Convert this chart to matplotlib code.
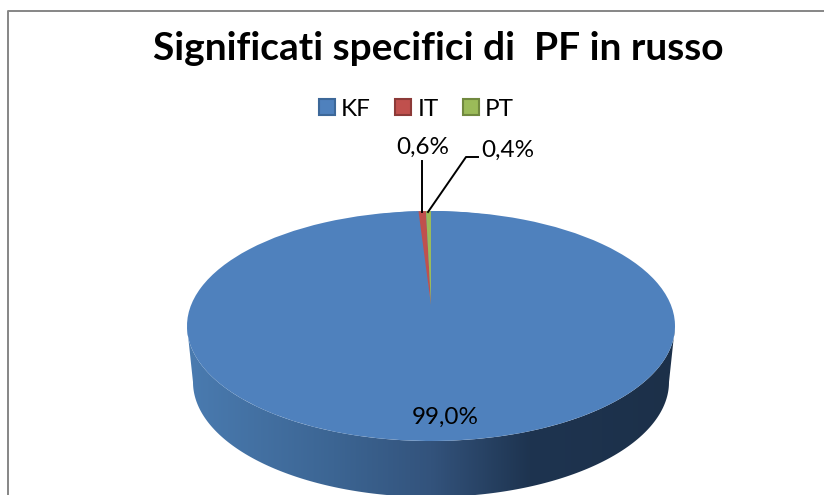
import matplotlib
matplotlib.use('Agg')
import matplotlib.pyplot as plt
import numpy as np
from matplotlib.colors import LinearSegmentedColormap
from matplotlib.patches import Polygon, Rectangle

plt.rcParams['font.family'] = ['Lato', 'DejaVu Sans']

labels = ['KF', 'IT', 'PT']
values = [99.0, 0.6, 0.4]
value_labels = ['99,0%', '0,6%', '0,4%']
colors = ['#4f81bd', '#c0504d', '#9bbb59']
edges = ['#3d6899', '#8c3a38', '#71893f']
title = 'Significati specifici di  PF in russo'

W, H = 824, 495
# pie ellipse in image pixels
cx, cy, rx, ry = 431, 326, 244, 115
depth = 56 / ry
# bottom rim is a bit narrower, the 3d view has perspective
rim = 238 / rx
# slices meet above the ellipse centre for the same reason
tip = (cy - 305) / ry

fig = plt.figure(figsize=(W / 100, H / 100), dpi=100)
ax = fig.add_axes([0, 0, 1, 1])

# top face
ax.pie(
    values,
    colors=[colors[0]] * len(values),
    startangle=90,
    counterclock=False,
    wedgeprops={'linewidth': 0}
)
ax.pie(
    values,
    colors=colors,
    startangle=90,
    counterclock=False,
    center=(0, tip),
    radius=1 - tip,
    wedgeprops={'linewidth': 0}
)
ax.set_aspect('auto')
ax.set_axis_off()

# side wall of the pie
t = np.linspace(np.pi, 2 * np.pi, 200)
wall = np.vstack([
    np.column_stack([np.cos(t), np.sin(t)]),
    np.column_stack([rim * np.cos(t[::-1]), np.sin(t[::-1]) - depth])
])
patch = Polygon(wall, closed=True, facecolor='none', edgecolor='none')
ax.add_patch(patch)
side_cmap = LinearSegmentedColormap.from_list(
    'side',
    [(0, '#4a7bb0'), (0.3, '#3c6593'), (0.5, '#33537c'),
     (0.7, '#1e3450'), (1, '#1c3049')]
)
grad = ax.imshow(
    np.linspace(0, 1, 256)[None, :],
    cmap=side_cmap,
    extent=(-1, 1, -1 - depth, 0),
    aspect='auto',
    zorder=0.5
)
grad.set_clip_path(patch)

# one data unit is one pie radius, squashed to an ellipse
ax.set_xlim(-cx / rx, (W - cx) / rx)
ax.set_ylim((cy - H) / ry, cy / ry)


def px(x, y):
    return (x - cx) / rx, (cy - y) / ry


# chart frame, open on the right and bottom as in the crop
ax.add_line(plt.Line2D(*zip(px(7.5, H), px(7.5, 10.5), px(W, 10.5)),
                       color='#868686', lw=1.4))

fig.text(438.5 / W, 1 - 48 / H, title, fontsize=28, fontweight='bold',
         ha='center', va='center', color='black')

ax.text(*px(445, 417), value_labels[0], fontsize=17.5, ha='center',
        va='center', color='black')
ax.text(*px(423, 147), value_labels[1], fontsize=17.5, ha='center',
        va='center', color='black')
ax.text(*px(508, 150), value_labels[2], fontsize=17.5, ha='center',
        va='center', color='black')

# leader lines
ax.add_line(plt.Line2D(*zip(px(422, 161), px(422, 212)), color='black', lw=1.4))
ax.add_line(plt.Line2D(*zip(px(478, 157), px(466, 157), px(428, 212)),
                       color='black', lw=1.4))

# legend
handles = [
    Rectangle((0, 0), 1, 1, facecolor=c, edgecolor=e, lw=1.5)
    for c, e in zip(colors, edges)
]
fig.legend(
    handles, labels,
    loc='center',
    bbox_to_anchor=(416.5 / W, 1 - 109 / H),
    ncol=3,
    frameon=False,
    fontsize=17.5,
    handlelength=0.66,
    handleheight=0.66,
    handletextpad=0.25,
    columnspacing=1.0,
    borderpad=0
)

fig.savefig('out.png', dpi=100, facecolor='white')
